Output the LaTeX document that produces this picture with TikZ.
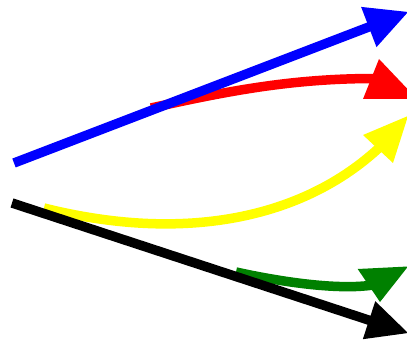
\documentclass[tikz,border=0pt]{standalone}
\usepackage{xcolor}
\definecolor{arrgreen}{RGB}{0,128,0}
\definecolor{arryellow}{RGB}{255,255,0}
\definecolor{arrred}{RGB}{255,0,0}
\definecolor{arrblue}{RGB}{0,0,255}
\definecolor{arrblack}{RGB}{0,0,0}
\begin{document}
\begin{tikzpicture}[x=1pt,y=1pt,
  thickline/.style={line width=9.5pt},
  headtip/.style={draw=none}]
\useasboundingbox (0,0) rectangle (407,343);
% end points of the strokes
\coordinate (rS) at (151,235);   \coordinate (rE) at (375,264.5);
\coordinate (yS) at (44,135);    \coordinate (yE) at (380,196);
\coordinate (gS) at (236,71);    \coordinate (gE) at (373,58);
\coordinate (bS) at (14,180);    \coordinate (bE) at (369.8,316.4);
\coordinate (kS) at (12,140);    \coordinate (kE) at (370,22.5);
% red
\draw[thickline, arrred] (rS) .. controls (228,252) and (292,264.5) .. (rE);
\fill[headtip, arrred] (379,284) -- (417,244) -- (363,244) -- cycle;
% yellow
\draw[thickline, arryellow] (yS) .. controls (184,100) and (303,124) .. (yE);
\fill[headtip, arryellow] (363,208) -- (408,227) -- (393,180) -- cycle;
% green
\draw[thickline, arrgreen] (gS) .. controls (286,60) and (340,53) .. (gE);
\fill[headtip, arrgreen] (357.7,74) -- (408,76.5) -- (380,41) -- cycle;
% blue
\draw[thickline, arrblue] (bS) -- (bE);
\fill[headtip, arrblue] (361.1,336.1) -- (408,331) -- (376.5,295.9) -- cycle;
% black
\draw[thickline, arrblack] (kS) -- (kE);
\fill[headtip, arrblack] (375.3,41.8) -- (408,10) -- (362.8,3.8) -- cycle;
\end{tikzpicture}
\end{document}
